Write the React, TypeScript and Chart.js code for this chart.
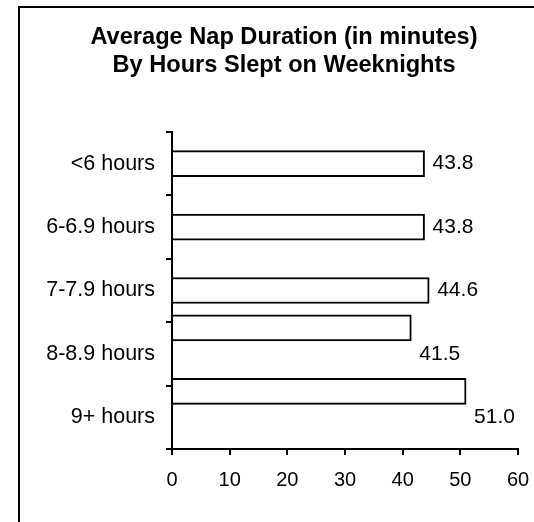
import React, { useEffect, useRef } from "react";
import { Chart, registerables } from "chart.js";

Chart.register(...registerables);

const categories = ["<6 hours", "6-6.9 hours", "7-7.9 hours", "8-8.9 hours", "9+ hours"];
const napMinutes = [43.8, 43.8, 44.6, 41.5, 51.0];
// bars drawn in the upper slot of their category (as in the original picture)
const raisedBar = [false, false, false, true, true];
const titleLines = ["Average Nap Duration (in minutes)", "By Hours Slept on Weeknights"];
const xMin = 0;
const xMax = 60;
const xStep = 10;

const FONT = "'Liberation Sans', Arial, sans-serif";

const valueLabelPlugin = {
  id: "valueLabels",
  afterDatasetsDraw(chart: any) {
    const ctx = chart.ctx;
    const yScale = chart.scales.y;
    ctx.save();
    ctx.font = `21px ${FONT}`;
    ctx.fillStyle = "#000";
    ctx.textAlign = "left";
    ctx.textBaseline = "middle";
    chart.data.datasets.forEach((ds: any, di: number) => {
      const meta = chart.getDatasetMeta(di);
      meta.data.forEach((el: any, i: number) => {
        const v = ds.data[i];
        if (v === null || v === undefined) return;
        ctx.fillText(Number(v).toFixed(1), el.x + 8, yScale.getPixelForValue(i));
      });
    });
    ctx.restore();
  },
};

export default function App() {
  const ref = useRef<HTMLCanvasElement>(null);

  useEffect(() => {
    if (!ref.current) return;
    const common = {
      backgroundColor: "#ffffff",
      borderColor: "#000000",
      borderWidth: 2,
      barThickness: 26,
    };
    const chart = new Chart(ref.current, {
      type: "bar",
      data: {
        labels: categories,
        datasets: [
          { ...common, stack: "a", data: napMinutes.map((v, i) => (raisedBar[i] ? v : null)) },
          { ...common, stack: "b", data: napMinutes.map((v, i) => (raisedBar[i] ? null : v)) },
          { ...common, stack: "c", data: napMinutes.map(() => null) },
        ],
      },
      options: {
        indexAxis: "y",
        responsive: false,
        animation: false,
        layout: { padding: 0 },
        plugins: {
          legend: { display: false },
          tooltip: { enabled: false },
          title: {
            display: true,
            text: titleLines,
            color: "#000",
            font: { family: FONT, size: 23.6, weight: "bold", lineHeight: 28 / 23.6 },
            padding: { top: 15, bottom: 53 },
          },
        },
        scales: {
          x: {
            min: xMin,
            max: xMax,
            ticks: {
              stepSize: xStep,
              color: "#000",
              padding: 13,
              font: { family: FONT, size: 20 },
            },
            grid: {
              drawOnChartArea: false,
              drawTicks: true,
              tickLength: 6,
              color: "#000",
              lineWidth: 2,
            },
            border: { display: true, color: "#000", width: 2 },
            afterFit(scale: any) {
              scale.height = 60;
            },
          },
          y: {
            ticks: {
              color: "#000",
              padding: 11,
              font: { family: FONT, size: 21.5 },
            },
            grid: {
              drawOnChartArea: false,
              drawTicks: true,
              tickLength: 6,
              color: "#000",
              lineWidth: 2,
              offset: true,
            },
            border: { display: true, color: "#000", width: 2 },
            afterFit(scale: any) {
              scale.width = 152;
            },
          },
          rightSpace: {
            type: "linear",
            position: "right",
            axis: "y",
            display: true,
            ticks: { display: false },
            grid: { display: false, drawTicks: false },
            border: { display: false },
            afterFit(scale: any) {
              scale.width = 30;
            },
          },
        },
      } as any,
      plugins: [valueLabelPlugin],
    });
    return () => chart.destroy();
  }, []);

  return (
    <div
      style={{
        position: "fixed",
        left: 0,
        top: 0,
        width: 534,
        height: 522,
        overflow: "hidden",
        background: "#fff",
      }}
    >
      <div
        style={{
          position: "absolute",
          left: 18,
          top: 6,
          width: 560,
          height: 560,
          boxSizing: "border-box",
          border: "2px solid #000",
          background: "#fff",
        }}
      >
        <canvas ref={ref} width={528} height={501} style={{ display: "block" }} />
      </div>
    </div>
  );
}
